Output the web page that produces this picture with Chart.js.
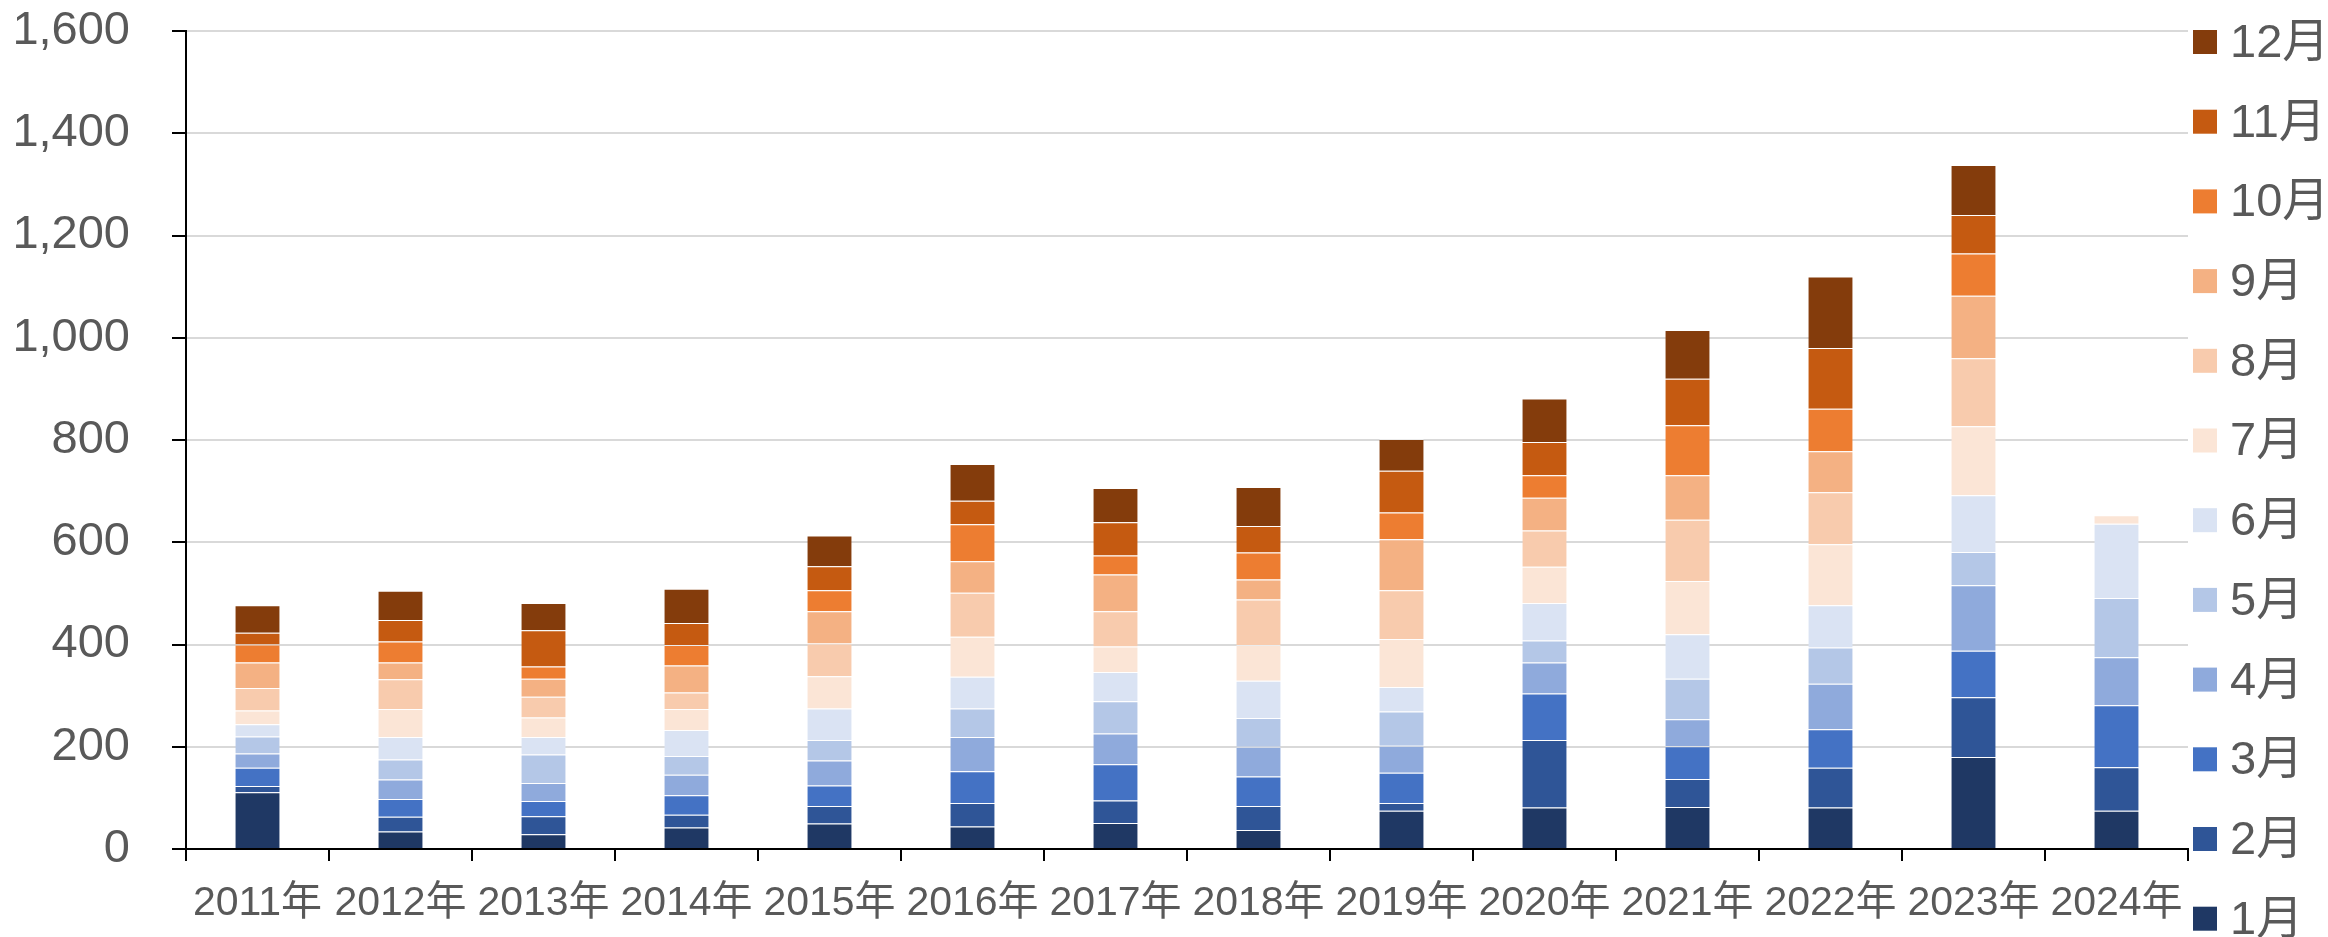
<!DOCTYPE html>
<html>
<head>
<meta charset="utf-8">
<script src="https://cdn.jsdelivr.net/npm/chart.js@4"></script>
<style>
  html, body { margin: 0; padding: 0; background: #fff; overflow: hidden; }
  #wrap { width: 2328px; height: 937px; }
</style>
</head>
<body>
<div id="wrap"><canvas id="monthChart"></canvas></div>
<script>
const years = ['2011年', '2012年', '2013年', '2014年', '2015年', '2016年', '2017年',
  '2018年', '2019年', '2020年', '2021年', '2022年', '2023年', '2024年'];
const months = ['1月', '2月', '3月', '4月', '5月', '6月', '7月', '8月', '9月', '10月', '11月', '12月'];
const yTicks = [0, 200, 400, 600, 800, 1000, 1200, 1400, 1600];

// monthly values per year (2024 only through July)
const jan = [111, 34, 29, 42, 50, 44, 51, 37, 75, 81, 82, 81, 180, 75];
const feb = [12, 29, 35, 25, 34, 46, 44, 47, 15, 132, 55, 78, 117, 85];
const mar = [36, 35, 30, 38, 40, 62, 71, 58, 59, 91, 64, 75, 91, 121];
const apr = [28, 38, 35, 40, 49, 67, 60, 58, 53, 61, 53, 89, 128, 94];
const may = [33, 39, 56, 37, 40, 56, 63, 56, 67, 43, 79, 71, 65, 116];
const jun = [24, 44, 34, 51, 62, 62, 57, 73, 48, 73, 87, 83, 111, 145];
const jul = [27, 55, 38, 41, 63, 78, 50, 70, 94, 71, 104, 119, 135, 17];
const aug = [44, 58, 41, 32, 64, 86, 69, 89, 95, 71, 120, 102, 133, null];
const sep = [50, 33, 35, 53, 63, 62, 72, 39, 100, 64, 87, 80, 122, null];
const oct = [35, 41, 24, 40, 41, 72, 37, 53, 52, 44, 98, 83, 83, null];
const nov = [23, 42, 71, 43, 47, 46, 65, 52, 82, 65, 91, 119, 75, null];
const dec = [54, 57, 53, 67, 60, 72, 67, 76, 62, 85, 95, 140, 98, null];

const monthColors = ['#1F3864', '#2F5597', '#4472C4', '#8FAADC', '#B4C7E7', '#DAE3F3',
  '#FBE5D6', '#F8CBAD', '#F4B183', '#ED7D31', '#C55A11', '#843C0C'];

const series = [jan, feb, mar, apr, may, jun, jul, aug, sep, oct, nov, dec];
const fontFamily = "'Liberation Sans', Arial, 'Noto Sans CJK SC', sans-serif";
const textColor = '#595959';

// legend drawn by hand so all 12 items stay in one column (last one runs off the bottom)
const sideLegend = {
  id: 'sideLegend',
  afterDraw(chart) {
    const ctx = chart.ctx;
    const area = chart.chartArea;
    const sets = chart.data.datasets;
    ctx.save();
    ctx.font = '47px ' + fontFamily;
    ctx.textBaseline = 'middle';
    ctx.textAlign = 'left';
    for (let i = 0; i < sets.length; i++) {
      const ds = sets[sets.length - 1 - i];
      const cy = 42 + i * 79.7;
      ctx.fillStyle = ds.backgroundColor;
      ctx.fillRect(area.right + 5, cy - 12, 24, 24);
      ctx.fillStyle = textColor;
      ctx.fillText(ds.label, area.right + 42, cy + 2);
    }
    ctx.restore();
  }
};

new Chart(document.getElementById('monthChart'), {
  type: 'bar',
  data: {
    labels: years,
    datasets: series.map((vals, i) => ({
      label: months[i],
      data: vals,
      backgroundColor: monthColors[i],
      borderColor: 'rgba(255,255,255,0.5)',
      borderWidth: { top: 1 },
      borderSkipped: false,
      barPercentage: 0.62,
      categoryPercentage: 0.5
    }))
  },
  plugins: [sideLegend],
  options: {
    responsive: true,
    maintainAspectRatio: false,
    animation: false,
    layout: { padding: { top: 31, right: 140, left: 0, bottom: 0 } },
    plugins: {
      legend: { display: false },
      tooltip: { enabled: false }
    },
    scales: {
      x: {
        stacked: true,
        afterFit(scale) { scale.height = 88; scale.paddingLeft = 0; scale.paddingRight = 0; },
        grid: {
          display: true,
          drawOnChartArea: false,
          offset: true,
          color: '#000',
          lineWidth: 2,
          tickLength: 12
        },
        border: { display: true, color: '#000', width: 2 },
        ticks: {
          color: textColor,
          font: { family: fontFamily, size: 41 },
          padding: 18,
          maxRotation: 0,
          autoSkip: false
        }
      },
      y: {
        stacked: true,
        min: 0,
        max: 1600,
        afterFit(scale) { scale.width = 186; scale.paddingTop = 0; scale.paddingBottom = 0; },
        afterBuildTicks(scale) { scale.ticks = yTicks.map(v => ({ value: v })); },
        grid: {
          color: ctx => ctx.tick && ctx.tick.value === 0 ? '#000' : '#d9d9d9',
          lineWidth: 2,
          tickColor: '#000',
          tickLength: 14
        },
        border: { display: true, color: '#000', width: 2 },
        ticks: {
          color: textColor,
          font: { family: fontFamily, size: 47 },
          padding: 42,
          callback: v => v.toLocaleString('en-US')
        }
      }
    }
  }
});
</script>
</body>
</html>
